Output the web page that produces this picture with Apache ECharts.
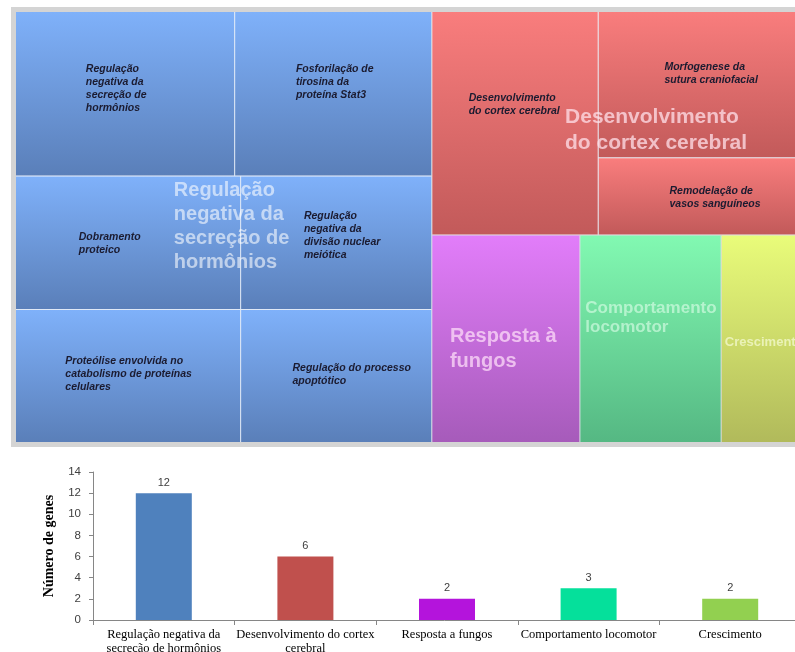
<!DOCTYPE html>
<html>
<head>
<meta charset="utf-8">
<script src="https://cdn.jsdelivr.net/npm/echarts@6/dist/echarts.min.js"></script>
<style>
  html, body { margin: 0; padding: 0; background: #fff; }
  #chart { width: 795px; height: 652px; }
</style>
</head>
<body>
<div id="chart"></div>
<script>
// treemap: grupos e termos (tamanho = area)
const groupNames = ["Regulação negativa da secreção de hormônios", "Desenvolvimento do cortex cerebral", "Resposta à fungos", "Comportamento locomotor", "Crescimento"];
const groupLabels = ["Regulação\nnegativa da\nsecreção de\nhormônios", "Desenvolvimento\ndo cortex cerebral", "Resposta à\nfungos", "Comportamento\nlocomotor", "Crescimento"];
const groupTerms = [
  ["Regulação\nnegativa da\nsecreção de\nhormônios", "Fosforilação de\ntirosina da\nproteína Stat3", "Dobramento\nproteico",
   "Proteólise envolvida no\ncatabolismo de proteínas\ncelulares", "Regulação\nnegativa da\ndivisão nuclear\nmeiótica", "Regulação do processo\napoptótico"],
  ["Desenvolvimento\ndo cortex cerebral", "Morfogenese da\nsutura craniofacial", "Remodelação de\nvasos sanguíneos"],
  ["Resposta à fungos"],
  ["Comportamento locomotor"],
  ["Crescimento"]
];
const termSizes = [
  [35.9, 32.3, 29.9, 29.8, 25.4, 25.3],
  [37.0, 29.6, 15.6],
  [30.6],
  [29.2],
  [16.6]
];

// grafico de barras
const barCategories = ["Regulação negativa da\nsecreção de hormônios", "Desenvolvimento do cortex\ncerebral", "Resposta a fungos", "Comportamento locomotor", "Crescimento"];
const geneCounts = [12, 6, 2, 3, 2];
const yMax = 14;
const yStep = 2;

// estilos
const groupColors = [
  ["#7fb1fa", "#5a7fb9"],
  ["#f97d7d", "#c25a5a"],
  ["#e27dfa", "#a65bba"],
  ["#82f9b2", "#55b883"],
  ["#e9fc7a", "#b1ba5b"]
];
const groupTextColors = ["rgba(255,255,255,0.58)", "rgba(255,225,235,0.75)", "rgba(255,225,250,0.72)", "rgba(225,255,235,0.6)", "rgba(250,255,225,0.65)"];
const barColors = ["#4f81bd", "#c0504d", "#b414dc", "#05e09b", "#92d050"];
const leafLabelPos = [
  [["32%", "31%"], ["31%", "31%"], ["28%", "41%"], ["22%", "34%"], ["33%", "25%"], ["27%", "39%"]],
  [["22%", "36%"], ["32.5%", "33.5%"], ["35%", "35%"]],
  [], [], []
];
const groupLabelStyle = [
  { position: ["38%", "38.8%"], fontSize: 20, lineHeight: 24 },
  { position: ["36%", "41.5%"], fontSize: 21, lineHeight: 26 },
  { position: ["12%", "42.8%"], fontSize: 20, lineHeight: 25 },
  { position: ["3.5%", "30.5%"], fontSize: 17, lineHeight: 19 },
  { position: ["4%", "48%"], fontSize: 13, lineHeight: 16 }
];

const gradient = (gi) => new echarts.graphic.LinearGradient(0, 0, 0, 1, [
  { offset: 0, color: groupColors[gi][0] },
  { offset: 1, color: groupColors[gi][1] }
]);

const treeBox = { left: 11, top: 7, width: 795, height: 440 };

const treeData = groupNames.map((g, gi) => {
  const terms = groupTerms[gi];
  if (terms.length === 1) {
    return { name: g, value: termSizes[gi][0], itemStyle: { color: gradient(gi) }, label: { show: false } };
  }
  return {
    name: g,
    children: terms.map((t, ti) => ({
      name: t,
      value: termSizes[gi][ti],
      itemStyle: { color: gradient(gi) },
      label: { position: leafLabelPos[gi][ti] }
    }))
  };
});

const overlayData = groupNames.map((g, gi) => ({
  name: g,
  value: termSizes[gi].reduce((a, b) => a + b, 0),
  label: {
    formatter: groupLabels[gi],
    color: groupTextColors[gi],
    position: groupLabelStyle[gi].position,
    fontSize: groupLabelStyle[gi].fontSize,
    lineHeight: groupLabelStyle[gi].lineHeight
  }
}));

const chart = echarts.init(document.getElementById("chart"));

const option = {
  animation: false,
  grid: { left: 93, right: -6, top: 472, bottom: 32, outerBoundsMode: "none", containLabel: false },
  xAxis: {
    type: "category",
    data: barCategories,
    axisLine: { lineStyle: { color: "#868686" } },
    axisTick: { show: true, length: 5, lineStyle: { color: "#868686" } },
    axisLabel: { color: "#000", fontFamily: "Liberation Serif", fontSize: 12.5, lineHeight: 13.5, margin: 8, interval: 0 }
  },
  yAxis: {
    type: "value",
    min: 0,
    max: yMax,
    interval: yStep,
    name: "Número de genes",
    nameLocation: "middle",
    nameGap: 37,
    nameTextStyle: { color: "#000", fontFamily: "Liberation Serif", fontWeight: "bold", fontSize: 14 },
    axisLine: { show: true, lineStyle: { color: "#868686" } },
    axisTick: { show: true, length: 4, lineStyle: { color: "#868686" } },
    axisLabel: { color: "#404040", fontFamily: "Liberation Sans", fontSize: 11.5, margin: 12 },
    splitLine: { show: false }
  },
  series: [
    {
      type: "treemap",
      ...treeBox,
      roam: false,
      nodeClick: false,
      breadcrumb: { show: false },
      squareRatio: 1,
      label: {
        show: true,
        color: "#1b1b30",
        fontFamily: "Liberation Sans",
        fontStyle: "italic",
        fontWeight: "bold",
        fontSize: 10.5,
        lineHeight: 13,
        padding: 0,
        overflow: "none"
      },
      levels: [
        { itemStyle: { borderWidth: 5, borderColor: "#d4d4d4", gapWidth: 1 } },
        { itemStyle: { borderWidth: 0, gapWidth: 1, borderColor: "rgba(225,235,250,0.9)" } },
        { itemStyle: { borderWidth: 0 } }
      ],
      data: treeData
    },
    {
      type: "treemap",
      ...treeBox,
      z: 5,
      silent: true,
      roam: false,
      nodeClick: false,
      breadcrumb: { show: false },
      squareRatio: 1,
      label: {
        show: true,
        fontFamily: "Liberation Sans",
        fontWeight: "bold",
        padding: 0,
        overflow: "none"
      },
      levels: [
        { itemStyle: { borderWidth: 5, borderColor: "rgba(0,0,0,0)", gapWidth: 1 } },
        { itemStyle: { borderWidth: 0, borderColor: "rgba(0,0,0,0)", color: "rgba(0,0,0,0)" } }
      ],
      data: overlayData
    },
    {
      type: "bar",
      data: geneCounts,
      barWidth: 56,
      itemStyle: { color: (p) => barColors[p.dataIndex] },
      label: { show: true, position: "top", distance: 5, color: "#404040", fontFamily: "Liberation Sans", fontSize: 11 }
    }
  ]
};

chart.setOption(option);
</script>
</body>
</html>
